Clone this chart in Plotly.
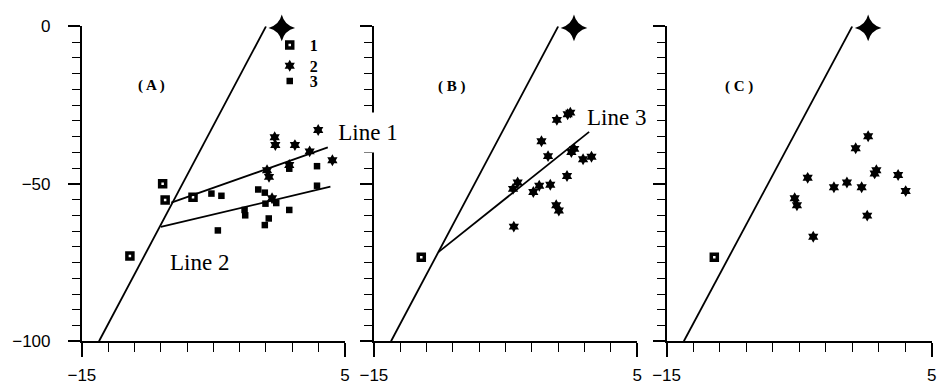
import plotly.graph_objects as go

W, H = 942, 385

# ---------------- data ----------------
# steep boundary line (same in all panels)
boundary_x = [-13.7, -1.0]
boundary_y = [-100, 0]
# large four-pointed star
apex_x = [0.2]
apex_y = [-0.5]
# fitted lines
line1_x = [-8.2, 3.7]
line1_y = [-56.0, -38.4]
line2_x = [-9.0, 3.9]
line2_y = [-63.7, -50.9]
line3_x = [-10.1, 1.35]
line3_y = [-71.7, -33.5]

# Panel A
a_g1_x = [-8.86, -8.67, -6.55, -11.35]
a_g1_y = [-50.0, -55.1, -54.3, -72.9]
a_g2_x = [-0.34, -0.29, 1.20, 2.97, 2.32, 4.05, -0.92, -0.77, 0.77, -0.54]
a_g2_y = [-35.2, -37.7, -37.7, -32.9, -39.7, -42.5, -45.7, -47.8, -44.0, -54.6]
a_g3_x = [0.77, 2.88, 2.88, -1.59, -1.09, -1.04, -0.22, 0.77, -2.63, -2.58,
          -0.79, -1.09, -4.66, -5.15, -4.39]
a_g3_y = [-45.2, -44.4, -50.6, -51.8, -52.8, -56.3, -56.1, -58.3, -58.3, -60.0,
          -61.0, -63.1, -64.8, -53.1, -53.8]

# Panel B
b_g1_x = [-11.4]
b_g1_y = [-73.3]
b_g2_x = [-1.10, -0.28, -0.08, -2.27, -1.77, 0.22, 0.00, 0.89, 1.53, -0.33,
          -4.08, -4.43, -2.44, -2.89, -1.60, -1.15, -0.95, -4.37]
b_g2_y = [-29.7, -27.9, -27.4, -36.5, -41.2, -38.9, -39.9, -42.2, -41.4, -47.5,
          -49.6, -51.6, -50.6, -52.6, -50.3, -56.8, -58.5, -63.6]

# Panel C
c_g1_x = [-11.4]
c_g1_y = [-73.3]
c_g2_x = [0.20, -0.74, 0.82, 0.69, 2.46, -4.36, -1.40, -2.38, -0.29, 3.03,
          -5.34, -5.17, 5.08, 0.13, -3.94]
c_g2_y = [-34.9, -38.7, -45.7, -46.7, -47.2, -48.1, -49.6, -51.1, -51.1, -52.3,
          -54.6, -56.8, -54.8, -60.1, -66.8]

x_tickvals = [-15, 5]
y_tickvals = [-100, -50, 0]
group_names = ["1", "2", "3"]

# ---------------- figure ----------------
fig = go.Figure()

BLACK = "black"
g1_marker = dict(symbol="square-open", size=6, color=BLACK, line=dict(width=3.5, color=BLACK))
g2_marker = dict(symbol="hexagram", size=9, color=BLACK, line=dict(width=0))
g3_marker = dict(symbol="square", size=6.5, color=BLACK, line=dict(width=0))
apex_marker = dict(symbol="star-diamond", size=19, color=BLACK, line=dict(width=0))
apex_core = dict(symbol="circle", size=10, color=BLACK, line=dict(width=0))


def add_line(x, y, ax):
    fig.add_trace(go.Scatter(x=x, y=y, mode="lines", line=dict(color=BLACK, width=1.8),
                             xaxis="x" + ax, yaxis="y" + ax, showlegend=False,
                             hoverinfo="skip", cliponaxis=False))


def add_pts(x, y, marker, ax, name=None, legend=None):
    fig.add_trace(go.Scatter(x=x, y=y, mode="markers", marker=marker, name=name,
                             xaxis="x" + ax, yaxis="y" + ax,
                             showlegend=legend is not None,
                             legend=legend if legend else "legend",
                             cliponaxis=False))


def add_apex(ax):
    add_pts(apex_x, apex_y, apex_marker, ax)
    add_pts(apex_x, apex_y, apex_core, ax)


# Panel A ("" suffix -> x / y)
add_line(boundary_x, boundary_y, "")
add_line(line1_x, line1_y, "")
add_line(line2_x, line2_y, "")
add_apex("")
add_pts(a_g1_x, a_g1_y, g1_marker, "", group_names[0], "legend")
add_pts(a_g2_x, a_g2_y, g2_marker, "", group_names[1], "legend2")
add_pts(a_g3_x, a_g3_y, g3_marker, "", group_names[2], "legend3")

# Panel B
add_line(boundary_x, boundary_y, "2")
add_line(line3_x, line3_y, "2")
add_apex("2")
add_pts(b_g1_x, b_g1_y, g1_marker, "2")
add_pts(b_g2_x, b_g2_y, g2_marker, "2")

# Panel C
add_line(boundary_x, boundary_y, "3")
add_apex("3")
add_pts(c_g1_x, c_g1_y, g1_marker, "3")
add_pts(c_g2_x, c_g2_y, g2_marker, "3")


def px_x(p):
    return p / W


def px_y(p):
    return 1 - p / H


x_domains = [(69.3, 337.7), (367.3, 636.0), (666.0, 936.7)]
y_dom = [px_y(350.5), px_y(18.3)]

tick_font = dict(family="Liberation Sans, Arial, sans-serif", size=17, color=BLACK)

layout_axes = {}
for i, (a, b) in enumerate(x_domains):
    sfx = "" if i == 0 else str(i + 1)
    layout_axes["xaxis" + sfx] = dict(
        domain=[px_x(a), px_x(b)], range=[-15, 5], anchor="y" + sfx,
        showgrid=False, zeroline=False, showline=True, linecolor=BLACK, linewidth=2,
        tickmode="linear", tick0=x_tickvals[0], dtick=x_tickvals[1] - x_tickvals[0],
        ticks="outside", ticklen=14, tickwidth=1.6, tickcolor=BLACK,
        ticklabelstandoff=3, tickfont=tick_font,
        minor=dict(tickmode="linear", tick0=-15, dtick=2, ticks="outside",
                   ticklen=9, tickwidth=1.4, tickcolor=BLACK, showgrid=False),
        fixedrange=True,
    )
    layout_axes["yaxis" + sfx] = dict(
        domain=y_dom, range=[-100, 0], anchor="x" + sfx,
        showgrid=False, zeroline=False, showline=True, linecolor=BLACK, linewidth=2,
        tickmode="linear", tick0=y_tickvals[0], dtick=y_tickvals[1] - y_tickvals[0],
        showticklabels=(i == 0),
        ticks="outside", ticklen=12, tickwidth=1.6, tickcolor=BLACK,
        ticklabelstandoff=14, tickfont=tick_font,
        minor=dict(tickmode="linear", tick0=0, dtick=5, ticks="outside",
                   ticklen=8, tickwidth=1.4, tickcolor=BLACK, showgrid=False),
        fixedrange=True,
    )

serif = "Liberation Serif, Times New Roman, serif"
annotations = [
    dict(text="<b>( A )</b>", x=px_x(140), y=px_y(81), font=dict(family=serif, size=15, color=BLACK)),
    dict(text="<b>( B )</b>", x=px_x(447), y=px_y(82), font=dict(family=serif, size=15, color=BLACK)),
    dict(text="<b>( C )</b>", x=px_x(740), y=px_y(82), font=dict(family=serif, size=15, color=BLACK)),
    dict(text="Line 2", x=px_x(189), y=px_y(267), font=dict(family=serif, size=23, color=BLACK)),
    dict(text="Line 3", x=px_x(615), y=px_y(114), font=dict(family=serif, size=23, color=BLACK)),
    dict(text="Line 1", x=px_x(361), y=px_y(130), font=dict(family=serif, size=23, color=BLACK),
         bgcolor="white", width=64, height=33, borderpad=3),
]
for a in annotations:
    a.update(xref="paper", yref="paper", showarrow=False, xanchor="center", yanchor="middle")

legend_font = dict(family=serif, size=16, color=BLACK, weight="bold")


def legend_at(ypix):
    return dict(x=px_x(261), y=px_y(ypix), xanchor="left", yanchor="middle",
                bgcolor="rgba(0,0,0,0)", borderwidth=0, font=legend_font,
                itemclick=False, itemdoubleclick=False)


fig.update_layout(
    width=W, height=H, margin=dict(l=0, r=0, t=0, b=0),
    paper_bgcolor="white", plot_bgcolor="white",
    showlegend=True,
    legend=legend_at(38),
    legend2=legend_at(60),
    legend3=legend_at(76),
    annotations=annotations,
    **layout_axes,
)

fig.write_html("out.html")
